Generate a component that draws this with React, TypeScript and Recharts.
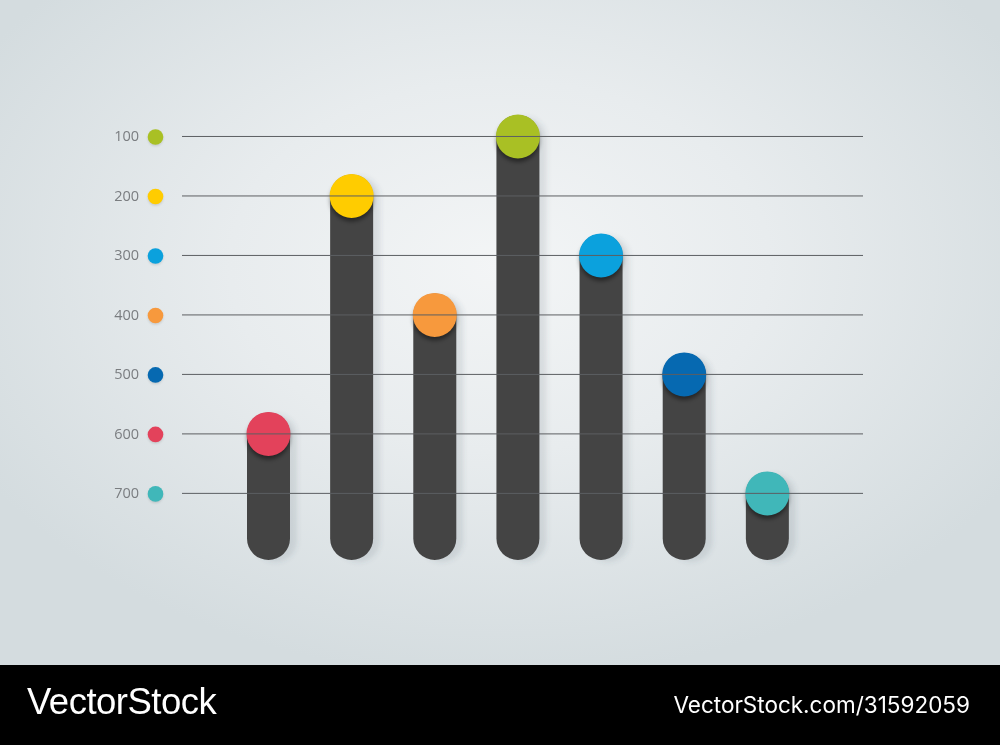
import React from 'react';
import { BarChart, Bar, XAxis, YAxis, ReferenceLine } from 'recharts';

const categories = ['1', '2', '3', '4', '5', '6', '7'];
const values = [600, 200, 400, 100, 300, 500, 700];
const barColors = ['#E3425B', '#FFCC00', '#F7993D', '#A9C024', '#0BA1DD', '#0669B1', '#40B7B9'];
const ticks = [100, 200, 300, 400, 500, 600, 700];
const tickColors = ['#A9C024', '#FFCC00', '#0BA1DD', '#F7993D', '#0669B1', '#E3425B', '#40B7B9'];
const domainMax = 812;

const data = categories.map((c, i) => ({ name: c, range: [values[i], domainMax] }));

const YTick = (props: any) => {
  const { x, y, payload } = props;
  const idx = ticks.indexOf(payload.value);
  const color = tickColors[idx];
  return (
    <g>
      <text x={x - 43} y={y} dy={5} textAnchor="end" fontFamily="'Open Sans', sans-serif" fontSize={14.5} fill="#7a7d80">
        {payload.value}
      </text>
      <circle cx={x - 26.5} cy={y + 2} r={7.8} fill="rgba(0,0,0,0.12)" filter="url(#dotBlur)" />
      <circle cx={x - 26.5} cy={y + 0.5} r={7.8} fill={color} />
    </g>
  );
};

const Pill = (props: any) => {
  const { x, y, width, height, index } = props;
  const top = Math.min(y, y + height);
  const bottom = Math.max(y, y + height);
  const r = width / 2;
  const color = barColors[index];
  return (
    <g>
      <rect x={x + 7} y={top - r + 2} width={width} height={bottom - top + r} rx={r} ry={r} fill="rgba(60,85,100,0.13)" filter="url(#shBlur)" />
      <rect x={x} y={top - r} width={width} height={bottom - top + r} rx={r} ry={r} fill="#444444" />
      <circle cx={x + r} cy={top + 4} r={r} fill="rgba(0,0,0,0.45)" filter="url(#circBlur)" />
      <circle cx={x + r} cy={top} r={r + 0.5} fill={color} />
    </g>
  );
};

export default function App() {
  return (
    <div style={{ position: 'fixed', left: 0, top: 0, width: 1000, height: 745, overflow: 'hidden' }}>
      <div
        style={{
          position: 'absolute',
          left: 0,
          top: 0,
          width: 1000,
          height: 665,
          background: 'radial-gradient(ellipse 60% 62% at 50% 40%, #f3f5f6 0%, #e8ecee 45%, #d4dcdf 100%)',
        }}
      >
        <svg width={0} height={0} style={{ position: 'absolute' }}>
          <defs>
            <filter id="shBlur" x="-50%" y="-10%" width="200%" height="120%">
              <feGaussianBlur stdDeviation="2.5" />
            </filter>
            <filter id="circBlur" x="-50%" y="-50%" width="200%" height="200%">
              <feGaussianBlur stdDeviation="2" />
            </filter>
            <filter id="dotBlur" x="-50%" y="-50%" width="200%" height="200%">
              <feGaussianBlur stdDeviation="1" />
            </filter>
          </defs>
        </svg>
        <BarChart
          width={1000}
          height={665}
          data={data}
          margin={{ top: 77, right: 137, bottom: 105, left: 0 }}
          barCategoryGap={0}
        >
          <XAxis dataKey="name" hide padding={{ left: 45, right: 54 }} />
          <YAxis
            type="number"
            domain={[0, domainMax]}
            ticks={ticks}
            reversed
            width={182}
            tickLine={false}
            axisLine={false}
            tickSize={0}
            tickMargin={0}
            tick={<YTick />}
            interval={0}
          />
          {ticks.map((t) => (
            <ReferenceLine key={t} y={t} stroke="#5c5f62" strokeWidth={1} ifOverflow="extendDomain" />
          ))}
          <Bar dataKey="range" barSize={43} shape={<Pill />} isAnimationActive={false} />
        </BarChart>
      </div>
      <div style={{ position: 'absolute', left: 0, top: 665, width: 1000, height: 80, background: '#000' }}>
        <div
          style={{
            position: 'absolute',
            left: 27,
            top: 15,
            color: '#fff',
            fontFamily: "'Liberation Sans', Arial, sans-serif",
            fontSize: 36.5,
            letterSpacing: -0.5,
            lineHeight: '44px',
          }}
        >
          VectorStock
        </div>
        <div
          style={{
            position: 'absolute',
            right: 30,
            top: 25,
            color: '#fff',
            fontFamily: "Inter, 'Liberation Sans', sans-serif",
            fontSize: 22.5,
            lineHeight: '30px',
          }}
        >
          VectorStock.com/31592059
        </div>
      </div>
    </div>
  );
}
